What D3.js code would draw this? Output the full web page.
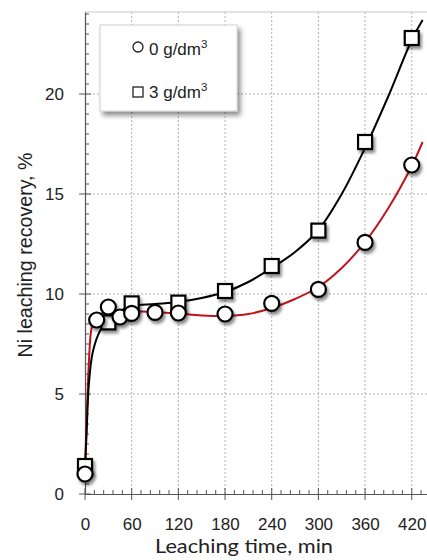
<!DOCTYPE html>
<html><head><meta charset="utf-8">
<script src="https://cdn.jsdelivr.net/npm/d3@7"></script>
<style>
html,body{margin:0;padding:0;background:#fff;}
svg{display:block;}
</style></head>
<body>
<script>
// ---- data ----
const timeTicks = [0, 60, 120, 180, 240, 300, 360, 420];
const recTicks = [0, 5, 10, 15, 20];
const seriesNames = ["0 g/dm", "3 g/dm"];
// measured points, 0 g/dm3 (circles)
const t0 = [0, 15, 30, 45, 60, 90, 120, 180, 240, 300, 360, 420];
const r0 = [1.0, 8.7, 9.35, 8.85, 9.03, 9.08, 9.05, 9.0, 9.53, 10.23, 12.58, 16.45];
// measured points, 3 g/dm3 (squares)
const t3 = [0, 30, 60, 120, 180, 240, 300, 360, 420];
const r3 = [1.4, 8.58, 9.53, 9.57, 10.15, 11.4, 13.17, 17.6, 22.8];
// fitted trend lines
const fitT0 = [0, 2, 5, 8, 12, 20, 35, 60, 90, 120, 150, 180, 210, 240, 270, 300, 330, 360, 390, 420, 434];
const fitR0 = [1.0, 3.6, 6.6, 8.2, 8.75, 9.0, 9.15, 9.15, 9.1, 9.02, 8.93, 8.9, 9.0, 9.3, 9.75, 10.35, 11.3, 12.6, 14.3, 16.4, 17.6];
const fitT3 = [0, 2, 5, 10, 20, 30, 45, 60, 90, 120, 150, 180, 210, 240, 270, 300, 330, 360, 390, 420, 434];
const fitR3 = [1.3, 3.0, 5.5, 7.1, 8.2, 8.65, 9.15, 9.4, 9.5, 9.6, 9.8, 10.1, 10.6, 11.3, 12.1, 13.2, 15.0, 17.3, 19.9, 22.7, 23.7];

const W = 427, H = 560;
const svg = d3.select("body").append("svg").attr("width", W).attr("height", H);

const x = d3.scaleLinear().domain([0, 440]).range([85, 427.3]);
const y = d3.scaleLinear().domain([0, 24.1]).range([494, 12]);

const defs = svg.append("defs");
const f = defs.append("filter").attr("id", "sh").attr("x", "-50%").attr("y", "-50%").attr("width", "200%").attr("height", "200%");
f.append("feDropShadow").attr("dx", 2).attr("dy", 3).attr("stdDeviation", 1.8).attr("flood-color", "#000").attr("flood-opacity", 0.45);
const f2 = defs.append("filter").attr("id", "sh2").attr("x", "-20%").attr("y", "-20%").attr("width", "140%").attr("height", "140%");
f2.append("feDropShadow").attr("dx", 3).attr("dy", 4).attr("stdDeviation", 2.5).attr("flood-color", "#000").attr("flood-opacity", 0.45);

const tickFont = "'Liberation Sans',Arial,sans-serif";

// grid
const grid = svg.append("g");
grid.selectAll("line.v").data(timeTicks.filter(d => d > 0)).enter().append("line")
  .attr("x1", d => x(d)).attr("x2", d => x(d)).attr("y1", y(24.1)).attr("y2", y(0))
  .attr("stroke", "#b0b0b0").attr("stroke-width", 1).attr("stroke-dasharray", "2,2");
grid.selectAll("line.h").data(recTicks.filter(d => d > 0)).enter().append("line")
  .attr("x1", x(0)).attr("x2", W).attr("y1", d => y(d)).attr("y2", d => y(d))
  .attr("stroke", "#b0b0b0").attr("stroke-width", 1).attr("stroke-dasharray", "2,2");
grid.append("line").attr("x1", x(0)).attr("x2", W).attr("y1", y(24.1)).attr("y2", y(24.1))
  .attr("stroke", "#c8c8c8").attr("stroke-width", 1.2);

// axes
const xAxis = svg.append("g").attr("transform", `translate(0,${y(0)})`);
xAxis.call(d3.axisBottom(x).tickValues(timeTicks).tickSize(0).tickPadding(24).tickFormat(d3.format("d")));
xAxis.select(".domain").attr("stroke", "#555").attr("stroke-width", 1.2);
xAxis.selectAll("text").attr("font-family", tickFont).attr("font-size", 17).attr("fill", "#222");
const xMinor = d3.range(0, 433, 12).filter(d => d % 60 !== 0);
xAxis.selectAll("line.mn").data(xMinor).enter().append("line")
  .attr("x1", d => x(d)).attr("x2", d => x(d)).attr("y1", 0).attr("y2", -4).attr("stroke", "#555");
xAxis.selectAll("line.mj").data(timeTicks).enter().append("line")
  .attr("x1", d => x(d)).attr("x2", d => x(d)).attr("y1", -6).attr("y2", 6).attr("stroke", "#555");

const yAxis = svg.append("g").attr("transform", `translate(${x(0)},0)`);
yAxis.call(d3.axisLeft(y).tickValues(recTicks).tickSize(0).tickPadding(21).tickFormat(d3.format("d")));
yAxis.select(".domain").attr("stroke", "#555").attr("stroke-width", 1.2);
yAxis.selectAll("text").attr("font-family", tickFont).attr("font-size", 17).attr("fill", "#222");
const yMinor = d3.range(0.5, 24.1, 0.5).filter(d => d % 5 !== 0);
yAxis.selectAll("line.mn").data(yMinor).enter().append("line")
  .attr("x1", 0).attr("x2", 4).attr("y1", d => y(d)).attr("y2", d => y(d)).attr("stroke", "#555");
yAxis.selectAll("line.mj").data(recTicks).enter().append("line")
  .attr("x1", -6).attr("x2", 6).attr("y1", d => y(d)).attr("y2", d => y(d)).attr("stroke", "#555");

// axis titles
svg.append("text").attr("x", 244).attr("y", 553).attr("text-anchor", "middle")
  .attr("font-family", "Lato,'Open Sans',sans-serif").attr("font-size", 19).attr("fill", "#222")
  .attr("textLength", 178).attr("lengthAdjust", "spacingAndGlyphs")
  .text("Leaching time, min");
svg.append("text").attr("transform", "translate(32,255) rotate(-90)").attr("text-anchor", "middle")
  .attr("font-family", "'Liberation Sans',Arial,sans-serif").attr("font-size", 20).attr("fill", "#222")
  .attr("textLength", 205).attr("lengthAdjust", "spacingAndGlyphs")
  .text("Ni leaching recovery, %");

// fitted curves
const line = d3.line().x(d => x(d[0])).y(d => y(d[1])).curve(d3.curveCatmullRom.alpha(0.5));
svg.append("path").datum(fitT0.map((t, i) => [t, fitR0[i]]))
  .attr("d", line).attr("fill", "none").attr("stroke", "#c0141c").attr("stroke-width", 2);
svg.append("path").datum(fitT3.map((t, i) => [t, fitR3[i]]))
  .attr("d", line).attr("fill", "none").attr("stroke", "#000").attr("stroke-width", 2);

// markers
const mk = svg.append("g");
mk.selectAll("rect.sq").data(t3.map((t, i) => [t, r3[i]])).enter().append("rect")
  .attr("x", d => x(d[0]) - 7).attr("y", d => y(d[1]) - 7).attr("width", 14).attr("height", 14)
  .attr("fill", "#fff").attr("stroke", "#000").attr("stroke-width", 2.2).attr("filter", "url(#sh)");
mk.selectAll("circle.c").data(t0.map((t, i) => [t, r0[i]])).enter().append("circle")
  .attr("cx", d => x(d[0])).attr("cy", d => y(d[1])).attr("r", 7.5)
  .attr("fill", "#fff").attr("stroke", "#000").attr("stroke-width", 2.2).attr("filter", "url(#sh)");

// legend
const lg = svg.append("g");
lg.append("rect").attr("x", 100).attr("y", 25).attr("width", 137).attr("height", 86)
  .attr("fill", "#fff").attr("stroke", "#d0d0d0").attr("stroke-width", 1).attr("filter", "url(#sh2)");
lg.append("circle").attr("cx", 138).attr("cy", 47).attr("r", 5)
  .attr("fill", "#fff").attr("stroke", "#222").attr("stroke-width", 1.3);
lg.append("rect").attr("x", 133).attr("y", 87).attr("width", 10).attr("height", 10)
  .attr("fill", "#fff").attr("stroke", "#222").attr("stroke-width", 1.3);
[[55, seriesNames[0]], [98, seriesNames[1]]].forEach(([yy, s]) => {
  const t = lg.append("text").attr("x", 149).attr("y", yy)
    .attr("font-family", tickFont).attr("font-size", 17).attr("fill", "#222");
  t.append("tspan").text(s);
  t.append("tspan").attr("font-size", 11.5).attr("dy", -7).text("3");
});
</script>
</body></html>
